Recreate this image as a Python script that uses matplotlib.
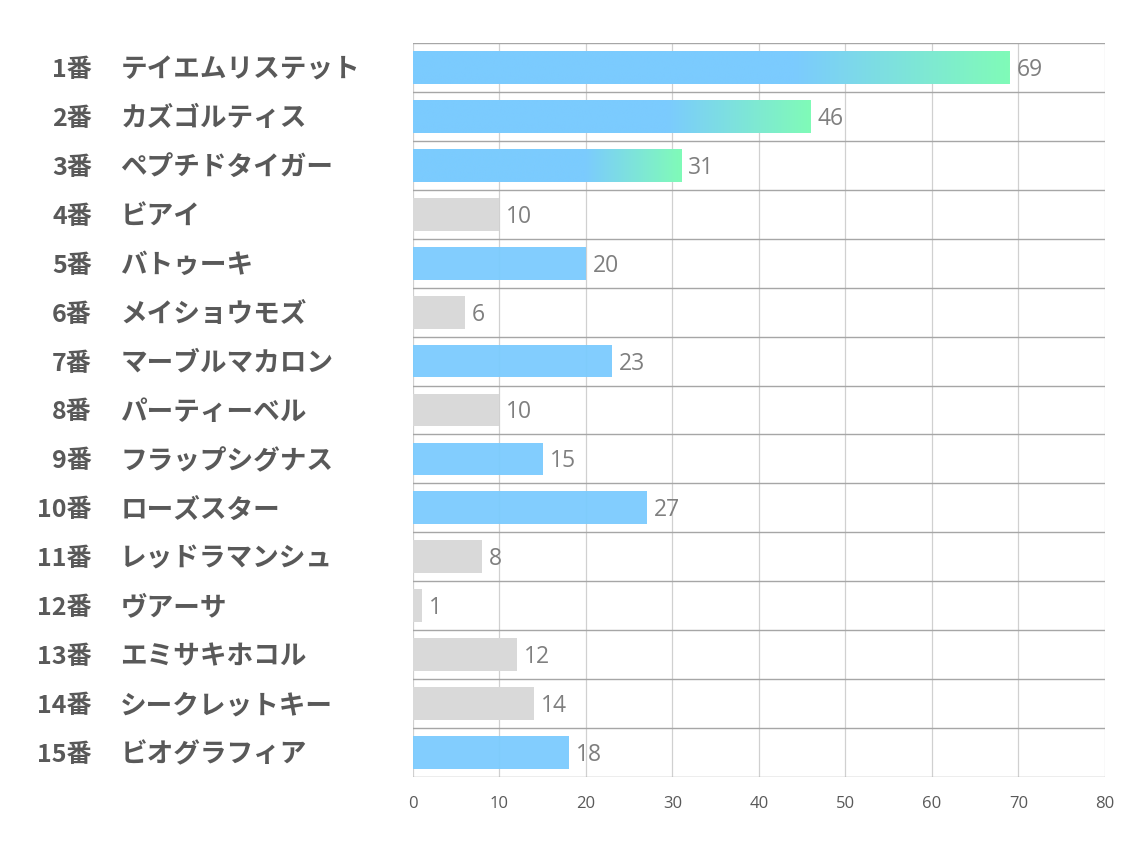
import numpy as np
import matplotlib.pyplot as plt
from matplotlib.colors import to_rgb

plt.rcParams['font.family'] = ['Noto Sans CJK JP', 'DejaVu Sans']

# data
numbers = ['1番', '2番', '3番', '4番', '5番', '6番', '7番', '8番', '9番', '10番',
           '11番', '12番', '13番', '14番', '15番']
names = ['テイエムリステット', 'カズゴルティス', 'ペプチドタイガー', 'ビアイ', 'バトゥーキ',
         'メイショウモズ', 'マーブルマカロン', 'パーティーベル', 'フラップシグナス', 'ローズスター',
         'レッドラマンシュ', 'ヴアーサ', 'エミサキホコル', 'シークレットキー', 'ビオグラフィア']
values = [69, 46, 31, 10, 20, 6, 23, 10, 15, 27, 8, 1, 12, 14, 18]
# 'g' = gradient (top 3), 'b' = blue, 'n' = gray
kinds = ['g', 'g', 'g', 'n', 'b', 'n', 'b', 'n', 'b', 'b', 'n', 'n', 'n', 'n', 'b']

BLUE = '#7BCBFE'
GREEN = '#80FBB8'
GRAY = '#D9D9D9'

fig = plt.figure(figsize=(11.34, 8.5), dpi=100)
ax = fig.add_axes([0.3642, 0.0859, 0.6102, 0.8635])

n = len(values)
ys = np.arange(n)
bar_h = 0.67

# vertical grid
for x in range(0, 81, 10):
    ax.axvline(x, color='#D0D0D0', lw=0.9, zorder=0)
# row separators
for b in np.arange(-0.5, n, 1.0):
    ax.axhline(b, color='#A6A6A6', lw=1.0, zorder=1)

b_rgb = np.array(to_rgb(BLUE))
g_rgb = np.array(to_rgb(GREEN))
t = np.linspace(0, 1, 300)
w = np.clip((t - 0.64) / 0.36, 0, 1)
grad = (b_rgb[None, :] * (1 - w[:, None]) + g_rgb[None, :] * w[:, None])[None, :, :]

for y, v, k in zip(ys, values, kinds):
    if k == 'g':
        ax.imshow(grad, extent=[0, v, y + bar_h / 2, y - bar_h / 2], aspect='auto',
                  interpolation='bilinear', zorder=2)
    else:
        ax.barh(y, v, height=bar_h, color=BLUE if k == 'b' else GRAY, zorder=2,
                alpha=0.95 if k == 'b' else 1.0)
    ax.text(v + 0.8, y + 0.05, str(v), ha='left', va='center', fontsize=16.5,
            color='#7F7F7F', family=['Open Sans', 'DejaVu Sans'], zorder=3)

ax.set_xlim(0, 80)
ax.set_ylim(n - 0.5, -0.5)

trans = ax.get_yaxis_transform()
for y, num, name in zip(ys, numbers, names):
    ax.text(-0.4639, y + 0.05, num, transform=trans, ha='right', va='center',
            fontsize=18, fontweight='bold', color='#595959')
    ax.text(-0.423, y + 0.05, name, transform=trans, ha='left', va='center',
            fontsize=19.2, fontweight='bold', color='#595959')

ax.set_xticks(range(0, 81, 10))
ax.set_yticks([])
ax.tick_params(axis='x', length=0, pad=14, labelsize=12, labelcolor='#595959')
for lab in ax.get_xticklabels():
    lab.set_family(['Open Sans', 'DejaVu Sans'])
for s in ax.spines.values():
    s.set_visible(False)

fig.savefig('out.png', dpi=100)
